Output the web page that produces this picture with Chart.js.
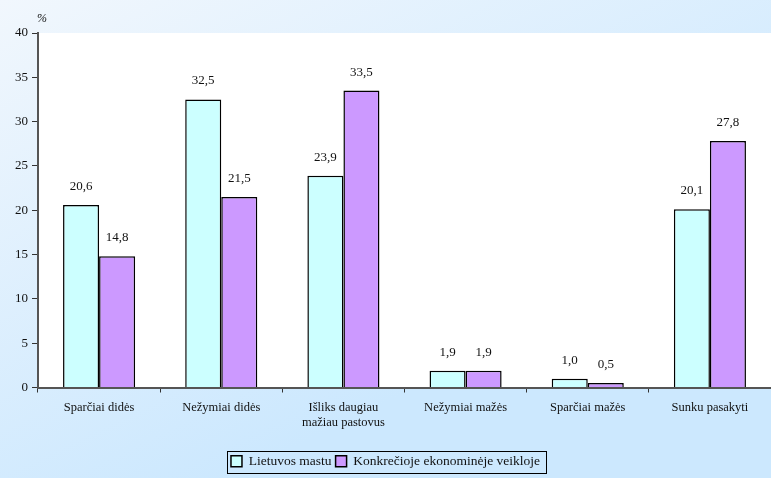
<!DOCTYPE html>
<html>
<head>
<meta charset="utf-8">
<script src="https://cdn.jsdelivr.net/npm/chart.js@4/dist/chart.umd.min.js"></script>
<style>
  html, body { margin: 0; padding: 0; background: #ffffff; }
  #wrap { width: 771px; height: 478px; position: relative; }
</style>
</head>
<body>
<div id="wrap"><canvas id="chart"></canvas></div>
<script>
// ── Data ────────────────────────────────────────────────────
const categories = [
    'Sparčiai didės',
    'Nežymiai didės',
    ['Išliks daugiau', 'mažiau pastovus'],
    'Nežymiai mažės',
    'Sparčiai mažės',
    'Sunku pasakyti',
];
const seriesNames = ['Lietuvos mastu', 'Konkrečioje ekonominėje veikloje'];
const lietuvosMastu = [20.6, 32.5, 23.9, 1.9, 1.0, 20.1];
const konkreciojeVeikloje = [14.8, 21.5, 33.5, 1.9, 0.5, 27.8];
const yTicks = [0, 5, 10, 15, 20, 25, 30, 35, 40];

const FONT = "'Liberation Serif', 'Times New Roman', serif";

// ── Plugins ─────────────────────────────────────────────────
const backgroundPlugin = {
    id: 'bg',
    beforeDraw(chart) {
        const { ctx, width, height, chartArea } = chart;
        ctx.save();
        const g = ctx.createLinearGradient(0, 0, width * 0.3, height);
        g.addColorStop(0, '#f1f7fd');
        g.addColorStop(1, '#cce8fe');
        ctx.fillStyle = g;
        ctx.fillRect(0, 0, width, height);
        ctx.fillStyle = '#ffffff';
        ctx.fillRect(chartArea.left, chartArea.top, chartArea.right - chartArea.left, chartArea.bottom - chartArea.top);
        ctx.restore();
    },
};

const labelsPlugin = {
    id: 'valueLabels',
    afterDatasetsDraw(chart) {
        const { ctx } = chart;
        ctx.save();
        ctx.font = '13px ' + FONT;
        ctx.fillStyle = '#111';
        ctx.textAlign = 'center';
        ctx.textBaseline = 'bottom';
        chart.data.datasets.forEach((ds, i) => {
            chart.getDatasetMeta(i).data.forEach((bar, j) => {
                ctx.fillText(ds.data[j].toFixed(1).replace('.', ','), bar.x, bar.y - 12);
            });
        });
        // "%" above the y axis
        const y = chart.scales.y;
        ctx.font = 'italic 12px ' + FONT;
        ctx.textAlign = 'center';
        ctx.fillText('%', y.right + 4, chart.chartArea.top - 8);
        // legend frame
        const lg = chart.legend;
        if (lg && lg.legendHitBoxes.length) {
            const boxes = lg.legendHitBoxes;
            const x0 = boxes[0].left - 4;
            const last = boxes[boxes.length - 1];
            const x1 = last.left + last.width + 6;
            ctx.strokeStyle = '#000';
            ctx.lineWidth = 1;
            ctx.strokeRect(Math.round(x0) + 0.5, Math.round(boxes[0].top - 4) + 0.5, Math.round(x1 - x0), Math.round(boxes[0].height + 8));
        }
        ctx.restore();
    },
};

// ── Chart ───────────────────────────────────────────────────
new Chart(document.getElementById('chart'), {
    type: 'bar',
    data: {
        labels: categories,
        datasets: [
            {
                label: seriesNames[0],
                data: lietuvosMastu,
                backgroundColor: '#ccffff',
                borderColor: '#000',
                borderWidth: 1.5,
                borderSkipped: 'bottom',
            },
            {
                label: seriesNames[1],
                data: konkreciojeVeikloje,
                backgroundColor: '#cc99ff',
                borderColor: '#000',
                borderWidth: 1.5,
                borderSkipped: 'bottom',
            },
        ],
    },
    options: {
        responsive: true,
        maintainAspectRatio: false,
        animation: false,
        layout: { padding: { top: 33, right: 0, left: 0, bottom: 0 } },
        datasets: { bar: { categoryPercentage: 0.59, barPercentage: 1.0 } },
        scales: {
            x: {
                grid: {
                    offset: true,
                    drawOnChartArea: false,
                    color: '#333',
                    tickLength: 5,
                },
                border: { color: '#555', width: 2 },
                ticks: { color: '#111', font: { family: FONT, size: 12.5 }, padding: 8, maxRotation: 0 },
                afterFit(scale) { scale.height = 63; },
            },
            y: {
                min: 0,
                max: 40,
                afterBuildTicks(scale) { scale.ticks = yTicks.map(v => ({ value: v })); },
                grid: {
                    drawOnChartArea: false,
                    color: '#333',
                    tickLength: 6,
                },
                border: { color: '#555', width: 2 },
                ticks: { color: '#111', font: { family: FONT, size: 13 }, padding: 4 },
                afterFit(scale) { scale.width = 38; },
            },
        },
        plugins: {
            legend: {
                position: 'bottom',
                labels: {
                    color: '#111',
                    font: { family: FONT, size: 13.5 },
                    boxWidth: 11,
                    boxHeight: 11,
                    padding: 4,
                    useBorderRadius: false,
                },
            },
            tooltip: { enabled: false },
        },
    },
    plugins: [backgroundPlugin, labelsPlugin],
});
</script>
</body>
</html>
